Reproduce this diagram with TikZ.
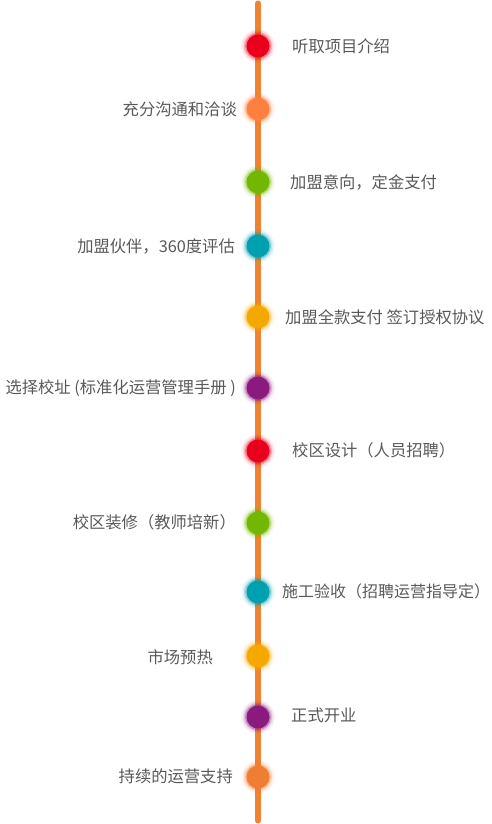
\documentclass[tikz,border=0pt]{standalone}
\usepackage{fontspec}
\setmainfont{Noto Sans CJK SC}
\definecolor{lineor}{HTML}{F08232}
\definecolor{cred}{HTML}{E8001C}
\definecolor{cora}{HTML}{FF7F3F}
\definecolor{cgrn}{HTML}{72B800}
\definecolor{ctea}{HTML}{00A0B0}
\definecolor{camb}{HTML}{F5A800}
\definecolor{cpur}{HTML}{8B1A7E}
\definecolor{cor2}{HTML}{F07E32}
\definecolor{txtgray}{HTML}{595959}
\tikzset{
  lbl/.style={text=txtgray, font=\fontsize{16.3}{19}\selectfont, inner sep=0pt},
  lblr/.style={lbl, anchor=west},
  lbll/.style={lbl, anchor=east},
}
\newcommand{\glowdot}[3]{% name, y, color
  \foreach \r/\o in {17/0.05,15.5/0.1,14/0.18,13/0.3}{
    \fill[#3, opacity=\o] (258,#2) circle (\r);
  }
  \node[circle, fill=#3, minimum size=23pt, inner sep=0pt] (#1) at (258,#2) {};
}
\begin{document}
\begin{tikzpicture}[x=1pt,y=-1pt]
\useasboundingbox (0,0) rectangle (492,824);
\coordinate (top) at (258,3.5);
\coordinate (bot) at (258,820.5);
\draw[lineor, line width=6pt, line cap=round] (top) -- (bot);
\glowdot{d1}{46}{cred}
\glowdot{d2}{109}{cora}
\glowdot{d3}{182}{cgrn}
\glowdot{d4}{246}{ctea}
\glowdot{d5}{317}{camb}
\glowdot{d6}{388}{cpur}
\glowdot{d7}{451}{cred}
\glowdot{d8}{523}{cgrn}
\glowdot{d9}{592}{ctea}
\glowdot{d10}{656}{camb}
\glowdot{d11}{717}{cpur}
\glowdot{d12}{777}{cor2}
\node[lblr] (t1) at (292,46) {听取项目介绍};
\node[lbll] (t2) at (237,109) {充分沟通和洽谈};
\node[lblr] (t3) at (290,182) {加盟意向，定金支付};
\node[lbll] (t4) at (235,246) {加盟伙伴，360度评估};
\node[lblr] (t5) at (285,317) {加盟全款支付 签订授权协议};
\node[lbll] (t6) at (236,388) {选择校址 (标准化运营管理手册 )};
\node[lblr] (t7) at (292,450) {校区设计（人员招聘）};
\node[lbll] (t8) at (236,522) {校区装修（教师培新）};
\node[lblr, font=\fontsize{16}{19}\selectfont] (t9) at (282,591) {施工验收（招聘运营指导定）\kern-0.5em};
\node[lbll] (t10) at (213,657) {市场预热};
\node[lblr] (t11) at (291,715) {正式开业};
\node[lbll] (t12) at (233,776) {持续的运营支持};
\end{tikzpicture}
\end{document}
